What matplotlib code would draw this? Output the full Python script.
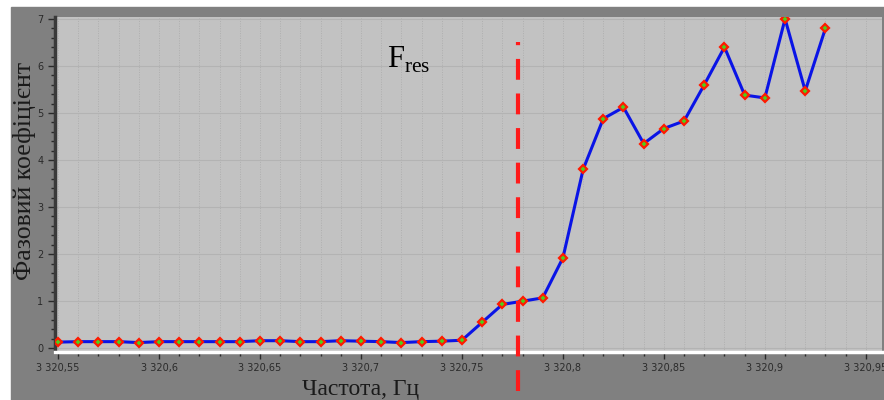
import matplotlib
matplotlib.use("Agg")
import matplotlib.pyplot as plt
from matplotlib.patches import Rectangle
from matplotlib.ticker import MultipleLocator, FuncFormatter

# measured data
freq = [3320.55, 3320.56, 3320.57, 3320.58, 3320.59, 3320.60, 3320.61,
        3320.62, 3320.63, 3320.64, 3320.65, 3320.66, 3320.67, 3320.68,
        3320.69, 3320.70, 3320.71, 3320.72, 3320.73, 3320.74, 3320.75,
        3320.76, 3320.77, 3320.78, 3320.79, 3320.80, 3320.81, 3320.82,
        3320.83, 3320.84, 3320.85, 3320.86, 3320.87, 3320.88, 3320.89,
        3320.90, 3320.91, 3320.92, 3320.93]
phase = [0.13, 0.14, 0.14, 0.14, 0.12, 0.14, 0.14,
         0.14, 0.14, 0.14, 0.16, 0.16, 0.14, 0.14,
         0.16, 0.15, 0.14, 0.12, 0.14, 0.15, 0.17,
         0.55, 0.93, 1.00, 1.07, 1.92, 3.80, 4.88,
         5.12, 4.35, 4.67, 4.83, 5.60, 6.40, 5.38,
         5.32, 7.00, 5.47, 6.80]
f_res = 3320.7777

fig = plt.figure(figsize=(8.84, 4.0), dpi=100, facecolor="white")
fig.patches.append(Rectangle((11 / 884, 0), 1, (400 - 7) / 400,
                             transform=fig.transFigure, color="#808080",
                             zorder=-10))

ax = fig.add_axes([55 / 884, 48 / 400, 827 / 884, 335 / 400])
ax.set_zorder(1)
ax.set_facecolor("#c2c2c2")

ax.plot(freq, phase, color="#0a14e6", lw=2.2, zorder=3)
ax.plot(freq, phase, ls="none", marker="D", ms=4.5, mfc="#4ccf1a",
        mec="#ff1a00", mew=1.6, zorder=4)

# resonance line goes past the axes into the label area
ax.plot([f_res, f_res], [-0.9, 6.5], color="#ff1a1a", lw=3,
        dashes=(5, 3.3), clip_on=False, zorder=5)

ax.set_xlim(3320.5485, 3320.958)
ax.set_ylim(-0.08, 7.04)

ax.xaxis.set_major_locator(MultipleLocator(0.05))
ax.xaxis.set_minor_locator(MultipleLocator(0.01))
ax.yaxis.set_major_locator(MultipleLocator(1))
ax.yaxis.set_minor_locator(MultipleLocator(0.2))


def fmt_freq(v, pos):
    s = f"{v:.2f}".rstrip("0").rstrip(".")
    whole, frac = s.split(".") if "." in s else (s, "")
    whole = f"{int(whole):,}".replace(",", " ")
    return whole + ("," + frac if frac else "")


ax.xaxis.set_major_formatter(FuncFormatter(fmt_freq))

ax.grid(which="major", axis="y", color="#b3b3b3", lw=0.8)
ax.grid(which="both", axis="x", color="#afafaf", lw=0.7, ls=(0, (1, 1.5)))
ax.set_axisbelow(True)

for side in ["top", "right"]:
    ax.spines[side].set_visible(False)
ax.spines["left"].set_color("#3a3a3a")
ax.spines["left"].set_linewidth(2.5)
ax.spines["bottom"].set_color("white")
ax.spines["bottom"].set_linewidth(2.5)

ax.tick_params(which="both", colors="#2a2a2a", labelsize=7, direction="out")
ax.tick_params(which="major", length=5, width=1)
ax.tick_params(which="minor", length=3, width=1)
ax.tick_params(axis="x", which="both", pad=3)

serif = "Liberation Serif"
ax.set_ylabel("Фазовий коефіцієнт", fontsize=18.5, family=serif,
              color="#1a1a1a")
ax.yaxis.set_label_coords(-0.023, 0.54)
ax.set_xlabel("Частота, Гц", fontsize=17, family=serif, color="#1a1a1a",
              labelpad=0)
ax.xaxis.set_label_coords(0.37, -0.08)

plt.rcParams["mathtext.fontset"] = "custom"
plt.rcParams["mathtext.rm"] = serif
ax.text(3320.7128, 5.95, r"$\mathrm{F}_{\mathrm{res}}$", fontsize=22,
        color="black")

plt.savefig("out.png", dpi=100, facecolor=fig.get_facecolor())
